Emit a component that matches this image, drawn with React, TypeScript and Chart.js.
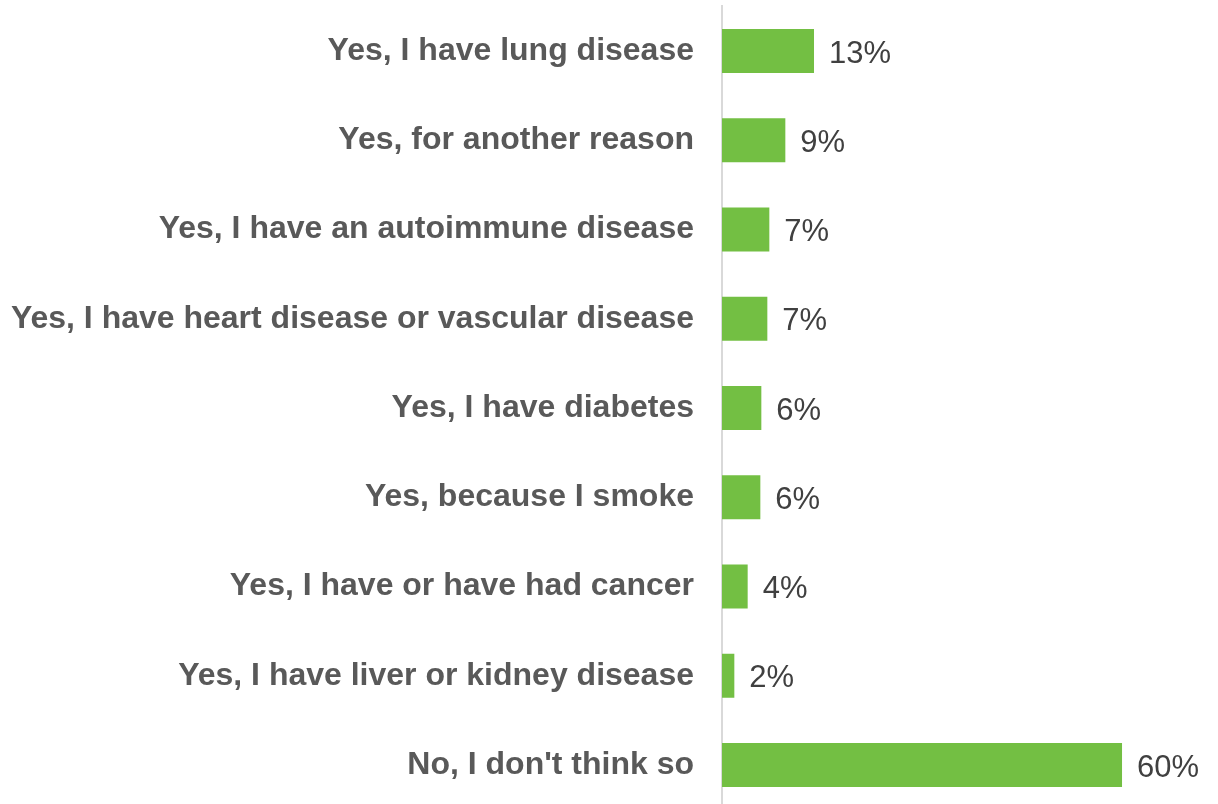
import React, { useEffect, useRef } from "react";
import { Chart, registerables } from "chart.js";

Chart.register(...registerables);

const categories = [
  "Yes, I have lung disease",
  "Yes, for another reason",
  "Yes, I have an autoimmune disease",
  "Yes, I have heart disease or vascular disease",
  "Yes, I have diabetes",
  "Yes, because I smoke",
  "Yes, I have or have had cancer",
  "Yes, I have liver or kidney disease",
  "No, I don't think so",
];

const values = [13.8, 9.5, 7.1, 6.8, 5.9, 5.75, 3.85, 1.85, 60];

const valueLabels = ["13%", "9%", "7%", "7%", "6%", "6%", "4%", "2%", "60%"];

const FONT = "Arial, 'Liberation Sans', Helvetica, sans-serif";

const valueLabelPlugin = {
  id: "valueLabels",
  afterDatasetsDraw(chart: any) {
    const ctx = chart.ctx;
    const meta = chart.getDatasetMeta(0);
    ctx.save();
    ctx.font = `31px ${FONT}`;
    ctx.fillStyle = "#404040";
    ctx.textAlign = "left";
    ctx.textBaseline = "middle";
    meta.data.forEach((bar: any, i: number) => {
      ctx.fillText(valueLabels[i], bar.x + 15, bar.y + 3);
    });
    ctx.restore();
  },
};

export default function App() {
  const canvasRef = useRef<HTMLCanvasElement | null>(null);

  useEffect(() => {
    if (!canvasRef.current) return;
    const chart = new Chart(canvasRef.current, {
      type: "bar",
      data: {
        labels: categories,
        datasets: [
          {
            data: values,
            backgroundColor: "#73BF43",
            borderWidth: 0,
            categoryPercentage: 1,
            barPercentage: 0.493,
          },
        ],
      },
      options: {
        indexAxis: "y",
        responsive: false,
        animation: false,
        layout: { padding: { top: 6.4, bottom: 6.4, left: 0, right: 29.3 } },
        plugins: {
          legend: { display: false },
          tooltip: { enabled: false },
        },
        scales: {
          x: {
            display: false,
            min: 0,
            max: 70,
          },
          y: {
            grid: { display: false, drawTicks: false },
            border: { display: true, color: "#d9d9d9", width: 2 },
            ticks: {
              color: "#595959",
              padding: 28,
              font: { family: FONT, size: 32, weight: "bold" },
            },
            afterFit(scale: any) {
              scale.width = 722;
              scale.paddingTop = 0;
              scale.paddingBottom = 0;
            },
          },
        },
      },
      plugins: [valueLabelPlugin],
    });
    return () => chart.destroy();
  }, []);

  return (
    <div
      style={{
        position: "fixed",
        left: 0,
        top: 0,
        width: 1218,
        height: 804,
        overflow: "hidden",
        background: "#ffffff",
      }}
    >
      <canvas ref={canvasRef} width={1218} height={816} style={{ display: "block" }} />
    </div>
  );
}
